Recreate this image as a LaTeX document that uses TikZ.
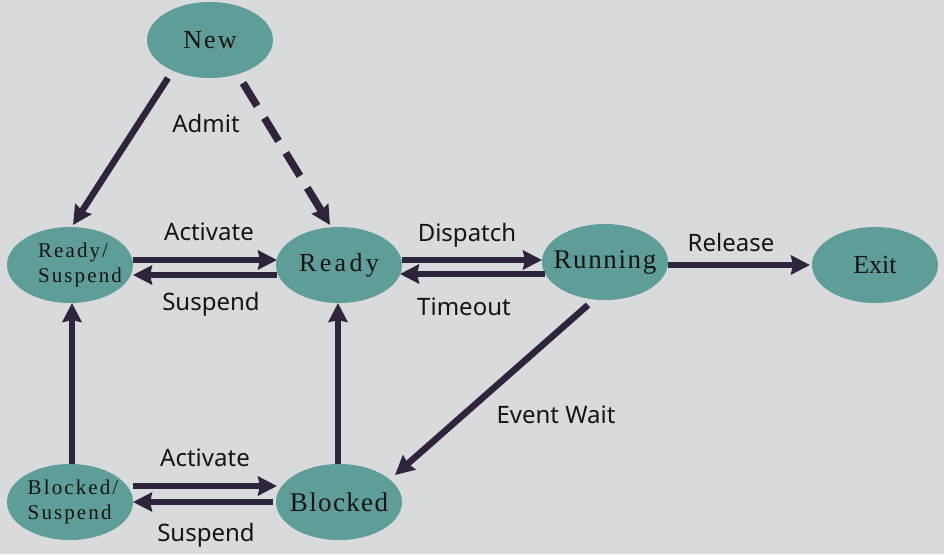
\documentclass[tikz,border=0pt]{standalone}
\usepackage{fontspec}
\setmainfont{Liberation Serif}
\newfontfamily\lblfont{Noto Sans}
\usetikzlibrary{shapes.geometric,arrows.meta}
\definecolor{bgc}{RGB}{217,218,220}
\definecolor{tealc}{RGB}{95,158,152}
\definecolor{arrc}{RGB}{46,36,60}
\definecolor{txtc}{RGB}{20,20,20}
\begin{document}
\begin{tikzpicture}[x=1pt,y=-1pt,
  state/.style={ellipse, fill=tealc, draw=none, minimum width=126pt, minimum height=76pt, inner sep=0pt, text=txtc},
  big/.style={font=\fontsize{26}{26}\selectfont},
  small/.style={font=\fontsize{21}{25}\selectfont\addfontfeatures{LetterSpace=10}},
  arr/.style={draw=arrc, line width=6.5pt, -{Stealth[length=19pt,width=19pt,inset=2pt]}},
  dasharr/.style={arr, line width=7.5pt, dash pattern=on 27pt off 14pt},
  lbl/.style={font=\lblfont\fontsize{24}{24}\selectfont, text=txtc, anchor=base, inner sep=0pt},
]
\fill[bgc] (0,0) rectangle (944,554);
\useasboundingbox (0,0) rectangle (944,554);

% states
\node[state,big] (new) at (210,40) {\makebox[0pt]{\addfontfeatures{LetterSpace=8}New}};
\node[state,small] (rs) at (70,265) {\makebox[0pt]{\hspace{20pt}\begin{tabular}{@{}l@{}}Ready/\\Suspend\end{tabular}}};
\node[state,big] (rdy) at (339,265) {\makebox[0pt]{\addfontfeatures{LetterSpace=13}Ready}};
\node[state,big] (run) at (605,262) {\makebox[0pt]{\fontsize{27}{27}\selectfont\addfontfeatures{LetterSpace=6}Running}};
\node[state,big] (exit) at (875,265) {\makebox[0pt]{Exit}};
\node[state,small] (bs) at (70,502) {\makebox[0pt]{\hspace{6pt}\begin{tabular}{@{}l@{}}Blocked/\\Suspend\end{tabular}}};
\node[state,big] (blk) at (339,502) {\makebox[0pt]{\fontsize{27}{27}\selectfont\addfontfeatures{LetterSpace=5}Blocked}};

% connectors
\draw[arr] ([shift={(-42,38)}]new.center) -- ([shift={(3,-40)}]rs.center);
\draw[dasharr] ([shift={(33,43)}]new.center) -- ([shift={(-9,-40)}]rdy.center);
\draw[arr] ([shift={(63,-5)}]rs.center) -- ([shift={(-62,-5)}]rdy.center);
\draw[arr] ([shift={(-62,10)}]rdy.center) -- ([shift={(63,10)}]rs.center);
\draw[arr] ([shift={(63,-5)}]rdy.center) -- ([shift={(-63,-2)}]run.center);
\draw[arr] ([shift={(-60,12)}]run.center) -- ([shift={(61,9)}]rdy.center);
\draw[arr] ([shift={(63,3)}]run.center) -- ([shift={(-65,0)}]exit.center);
\draw[arr] ([shift={(-17,43)}]run.center) -- ([shift={(56,-27)}]blk.center);
\draw[arr] ([shift={(2,-38)}]bs.center) -- ([shift={(2,38)}]rs.center);
\draw[arr] ([shift={(-1,-38)}]blk.center) -- ([shift={(-1,38)}]rdy.center);
\draw[arr] ([shift={(63,-16)}]bs.center) -- ([shift={(-62,-16)}]blk.center);
\draw[arr] ([shift={(-66,0)}]blk.center) -- ([shift={(63,0)}]bs.center);

% labels
\node[lbl] (lAdmit) at (206,132) {Admit};
\node[lbl] (lAct1) at (209,240) {Activate};
\node[lbl] (lSus1) at (211,310) {Suspend};
\node[lbl] (lDisp) at (467,241) {Dispatch};
\node[lbl] (lTime) at (464,315) {Timeout};
\node[lbl] (lRel) at (731,251) {Release};
\node[lbl] (lEvt) at (556,423) {Event Wait};
\node[lbl] (lAct2) at (205,466) {Activate};
\node[lbl] (lSus2) at (206,541) {Suspend};
\end{tikzpicture}
\end{document}
